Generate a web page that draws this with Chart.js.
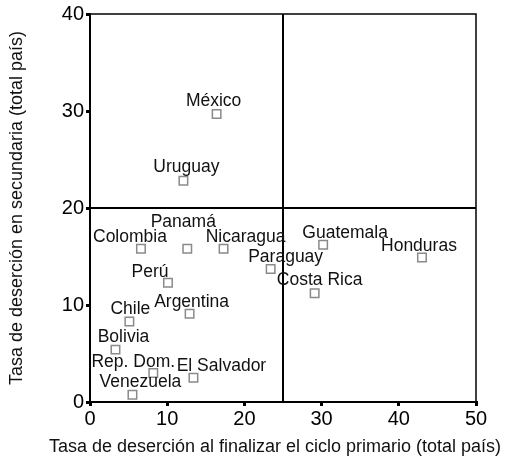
<!DOCTYPE html>
<html>
<head>
<meta charset="utf-8">
<script src="https://cdn.jsdelivr.net/npm/chart.js@4.4.0/dist/chart.umd.min.js"></script>
<style>
html, body { margin: 0; padding: 0; background: #fff; }
#wrap { width: 522px; height: 459px; }
</style>
</head>
<body>
<div id="wrap"><canvas id="myChart" width="522" height="459"></canvas></div>
<script>
// datos
const paises = ['México', 'Uruguay', 'Colombia', 'Panamá', 'Nicaragua', 'Paraguay', 'Guatemala', 'Honduras',
    'Costa Rica', 'Perú', 'Argentina', 'Chile', 'Bolivia', 'Rep. Dom.', 'El Salvador', 'Venezuela'];
const desercionPrimaria = [16.4, 12.1, 6.6, 12.6, 17.3, 23.4, 30.2, 43.0, 29.1, 10.1, 12.9, 5.1, 3.3, 8.2, 13.4, 5.5];
const desercionSecundaria = [29.7, 22.8, 15.8, 15.8, 15.8, 13.7, 16.2, 14.9, 11.2, 12.3, 9.1, 8.3, 5.4, 3.0, 2.5, 0.75];
const xTicks = [0, 10, 20, 30, 40, 50];
const yTicks = [0, 10, 20, 30, 40];
const corteX = 25;
const corteY = 20;
const tituloX = 'Tasa de deserción al finalizar el ciclo primario (total país)';
const tituloY = 'Tasa de deserción en secundaria (total país)';

// desplazamiento de cada etiqueta respecto a su punto
const labelOffsets = {
    'México': [-3, -13], 'Uruguay': [3, -14], 'Colombia': [-11, -12], 'Panamá': [-4, -27],
    'Nicaragua': [22, -12], 'Paraguay': [15, -12], 'Guatemala': [22, -12], 'Honduras': [-3, -11],
    'Costa Rica': [5, -13], 'Perú': [-18, -11], 'Argentina': [2, -12], 'Chile': [1, -12],
    'Bolivia': [8, -12], 'Rep. Dom.': [-20, -11], 'El Salvador': [28, -12], 'Venezuela': [8, -13]
};

const FONT = '"Liberation Sans", Arial, Helvetica, sans-serif';

const quadrants = {
    id: 'quadrants',
    beforeDatasetsDraw(chart) {
        const { ctx, chartArea: a, scales } = chart;
        ctx.save();
        ctx.strokeStyle = '#000';
        ctx.lineWidth = 1.5;
        ctx.strokeRect(a.left, a.top, a.right - a.left, a.bottom - a.top);
        ctx.lineWidth = 2;
        const px = scales.x.getPixelForValue(corteX);
        const py = scales.y.getPixelForValue(corteY);
        ctx.beginPath();
        ctx.moveTo(px, a.top);
        ctx.lineTo(px, a.bottom);
        ctx.moveTo(a.left, py);
        ctx.lineTo(a.right, py);
        ctx.stroke();
        ctx.restore();
    },
    afterDatasetsDraw(chart) {
        const { ctx, chartArea: a } = chart;
        const meta = chart.getDatasetMeta(0);
        ctx.save();
        ctx.font = '17.5px ' + FONT;
        ctx.fillStyle = '#111';
        ctx.textAlign = 'center';
        ctx.textBaseline = 'middle';
        meta.data.forEach((pt, i) => {
            const off = labelOffsets[paises[i]] || [0, -12];
            ctx.fillText(paises[i], pt.x + off[0], pt.y + off[1]);
        });
        // título del eje x, más ancho que el área del gráfico
        ctx.font = '18px ' + FONT;
        ctx.fillText(tituloX, (a.left + a.right) / 2 - 8, chart.height - 12);
        ctx.restore();
    }
};

const ctx = document.getElementById('myChart');

const scatter = new Chart(ctx, {
    type: 'scatter',
    data: {
        labels: paises,
        datasets: [{
            data: desercionPrimaria.map((v, i) => ({ x: v, y: desercionSecundaria[i] })),
            pointStyle: 'rect',
            pointRadius: 6,
            pointBorderWidth: 1.5,
            pointBorderColor: '#8a8a8a',
            pointBackgroundColor: '#fff'
        }]
    },
    options: {
        responsive: false,
        animation: false,
        layout: { padding: { top: 12, right: 46, left: 0, bottom: 0 } },
        plugins: {
            legend: { display: false },
            tooltip: { enabled: false }
        },
        scales: {
            x: {
                type: 'linear',
                min: 0,
                max: 50,
                afterBuildTicks: s => { s.ticks = xTicks.map(v => ({ value: v })); },
                afterFit: s => { s.height = 57; },
                grid: { drawOnChartArea: false, color: '#000', tickLength: 4, lineWidth: 3 },
                border: { color: '#000', width: 2 },
                ticks: { color: '#000', padding: 1, font: { family: FONT, size: 20 } },
                title: { display: false }
            },
            y: {
                type: 'linear',
                min: 0,
                max: 40,
                afterBuildTicks: s => { s.ticks = yTicks.map(v => ({ value: v })); },
                afterFit: s => { s.width = 90; },
                grid: { drawOnChartArea: false, color: '#000', tickLength: 4, lineWidth: 3 },
                border: { color: '#000', width: 2 },
                ticks: { color: '#000', padding: 2, font: { family: FONT, size: 20 } },
                title: {
                    display: true,
                    text: tituloY,
                    color: '#111',
                    font: { family: FONT, size: 18 },
                    padding: { top: 6, bottom: 0 }
                }
            }
        }
    },
    plugins: [quadrants]
});
</script>
</body>
</html>
